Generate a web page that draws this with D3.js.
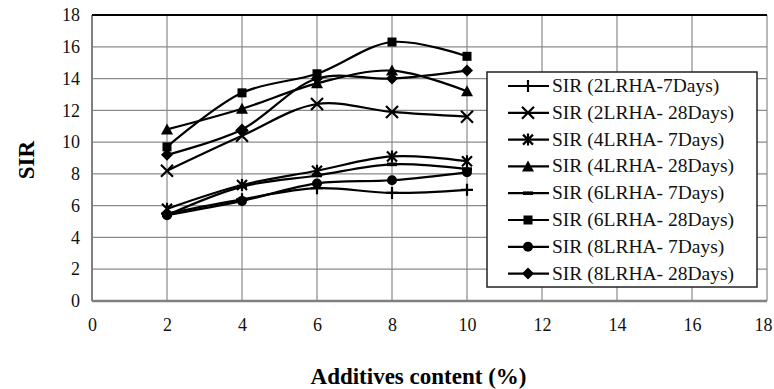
<!DOCTYPE html>
<html>
<head>
<meta charset="utf-8">
<script src="https://cdn.jsdelivr.net/npm/d3@7"></script>
<style>
  body { margin: 0; background: #fff; }
  svg text { font-family: "Liberation Serif", "Times New Roman", serif; }
</style>
</head>
<body>
<svg width="774" height="389"></svg>
<script>
// values
var xValues = [2, 4, 6, 8, 10];
var seriesNames = [
  "SIR (2LRHA-7Days)", "SIR (2LRHA- 28Days)", "SIR (4LRHA- 7Days)", "SIR (4LRHA- 28Days)",
  "SIR (6LRHA- 7Days)", "SIR (6LRHA- 28Days)", "SIR (8LRHA- 7Days)", "SIR (8LRHA- 28Days)"
];
var sir2_7   = [5.5, 6.4, 7.1, 6.8, 7.0];
var sir2_28  = [8.2, 10.4, 12.4, 11.9, 11.6];
var sir4_7   = [5.8, 7.3, 8.2, 9.1, 8.8];
var sir4_28  = [10.8, 12.1, 13.7, 14.5, 13.2];
var sir6_7   = [5.4, 7.2, 7.9, 8.6, 8.3];
var sir6_28  = [9.7, 13.1, 14.3, 16.3, 15.4];
var sir8_7   = [5.4, 6.3, 7.4, 7.6, 8.1];
var sir8_28  = [9.2, 10.8, 14.0, 14.0, 14.5];
var markers = ["plus", "x", "star", "triangle", "dash", "square", "circle", "diamond"];
var xTicks = d3.range(0, 19, 2);
var yTicks = d3.range(0, 19, 2);

var allSeries = [sir2_7, sir2_28, sir4_7, sir4_28, sir6_7, sir6_28, sir8_7, sir8_28];

var svg = d3.select("svg");
var pLeft = 92, pRight = 767, pTop = 15, pBottom = 301;

var x = d3.scaleLinear().domain([0, 18]).range([pLeft, pRight]);
var y = d3.scaleLinear().domain([0, 18]).range([pBottom, pTop]);

// grid
svg.append("g").selectAll("line")
  .data(xTicks.slice(1))
  .enter().append("line")
    .attr("x1", function(d) { return x(d); }).attr("x2", function(d) { return x(d); })
    .attr("y1", pTop).attr("y2", pBottom)
    .attr("stroke", "#8a8a8a").attr("stroke-width", 1.2);
svg.append("g").selectAll("line")
  .data(yTicks.slice(1))
  .enter().append("line")
    .attr("x1", pLeft).attr("x2", pRight)
    .attr("y1", function(d) { return y(d); }).attr("y2", function(d) { return y(d); })
    .attr("stroke", "#8a8a8a").attr("stroke-width", 1.2);

// frame
svg.append("line").attr("x1", pLeft).attr("x2", pLeft).attr("y1", pTop).attr("y2", pBottom)
  .attr("stroke", "#808080").attr("stroke-width", 2);
svg.append("line").attr("x1", pLeft).attr("x2", pRight).attr("y1", pBottom).attr("y2", pBottom)
  .attr("stroke", "#808080").attr("stroke-width", 2.5);
svg.append("line").attr("x1", pLeft).attr("x2", pRight).attr("y1", pTop).attr("y2", pTop)
  .attr("stroke", "#000").attr("stroke-width", 2);

// axes labels
var xAxis = d3.axisBottom(x).tickValues(xTicks).tickSize(0).tickPadding(17);
var gx = svg.append("g").attr("transform", "translate(0," + pBottom + ")").call(xAxis);
gx.select(".domain").remove();
gx.attr("font-family", null).attr("font-size", null);
gx.selectAll("text").style("font-size", "18px").attr("fill", "#111");
gx.selectAll(".tick").filter(function(d) { return d === 18; }).select("text").attr("dx", -4);

var yAxis = d3.axisLeft(y).tickValues(yTicks).tickSize(0).tickPadding(12);
var gy = svg.append("g").attr("transform", "translate(" + pLeft + ",0)").call(yAxis);
gy.select(".domain").remove();
gy.attr("font-family", null).attr("font-size", null);
gy.selectAll("text").style("font-size", "18px").attr("fill", "#111");

svg.append("text")
  .attr("x", (pLeft + pRight) / 2 - 11).attr("y", 384)
  .attr("text-anchor", "middle")
  .style("font-size", "23px").attr("font-weight", "bold")
  .text("Additives content (%)");

svg.append("text")
  .attr("transform", "translate(34,160) rotate(-90)")
  .attr("text-anchor", "middle")
  .style("font-size", "23px").attr("font-weight", "bold")
  .text("SIR");

// marker drawing
function drawMarker(g, type, cx, cy) {
  var s = 5;
  if (type === "plus") {
    g.append("path").attr("d", "M" + (cx - s - 1) + "," + cy + "H" + (cx + s + 1) + "M" + cx + "," + (cy - s - 1) + "V" + (cy + s + 1))
      .attr("stroke", "#000").attr("stroke-width", 2.2);
  } else if (type === "x") {
    g.append("path").attr("d", "M" + (cx - s - 1) + "," + (cy - s - 1) + "L" + (cx + s + 1) + "," + (cy + s + 1) +
      "M" + (cx - s - 1) + "," + (cy + s + 1) + "L" + (cx + s + 1) + "," + (cy - s - 1))
      .attr("stroke", "#000").attr("stroke-width", 2.2);
  } else if (type === "star") {
    g.append("path").attr("d", "M" + (cx - s) + "," + (cy - s) + "L" + (cx + s) + "," + (cy + s) +
      "M" + (cx - s) + "," + (cy + s) + "L" + (cx + s) + "," + (cy - s) +
      "M" + cx + "," + (cy - s - 1) + "V" + (cy + s + 1))
      .attr("stroke", "#000").attr("stroke-width", 2.2);
  } else if (type === "triangle") {
    g.append("path").attr("d", "M" + cx + "," + (cy - 6) + "L" + (cx + 6) + "," + (cy + 5) + "L" + (cx - 6) + "," + (cy + 5) + "Z")
      .attr("fill", "#000");
  } else if (type === "dash") {
    g.append("rect").attr("x", cx - 5).attr("y", cy - 1.8).attr("width", 10).attr("height", 3.6).attr("fill", "#000");
  } else if (type === "square") {
    g.append("rect").attr("x", cx - 4.5).attr("y", cy - 4.5).attr("width", 9).attr("height", 9).attr("fill", "#000");
  } else if (type === "circle") {
    g.append("circle").attr("cx", cx).attr("cy", cy).attr("r", 5).attr("fill", "#000");
  } else if (type === "diamond") {
    g.append("path").attr("d", "M" + cx + "," + (cy - 6) + "L" + (cx + 6) + "," + cy + "L" + cx + "," + (cy + 6) + "L" + (cx - 6) + "," + cy + "Z")
      .attr("fill", "#000");
  }
}

// lines
var line = d3.line()
  .x(function(d, i) { return x(xValues[i]); })
  .y(function(d) { return y(d); })
  .curve(d3.curveCatmullRom.alpha(0.5));

var series = svg.append("g").attr("class", "series");
allSeries.forEach(function(vals) {
  series.append("path")
    .attr("d", line(vals))
    .attr("fill", "none")
    .attr("stroke", "#000")
    .attr("stroke-width", 2.2);
});
allSeries.forEach(function(vals, k) {
  var g = series.append("g");
  vals.forEach(function(v, i) { drawMarker(g, markers[k], x(xValues[i]), y(v)); });
});

// legend
var lg = svg.append("g").attr("class", "legend");
lg.append("rect")
  .attr("x", 487).attr("y", 72).attr("width", 270).attr("height", 215)
  .attr("fill", "#fff").attr("stroke", "#222").attr("stroke-width", 1.5);
seriesNames.forEach(function(name, k) {
  var ly = 86 + k * 26.8;
  lg.append("line").attr("x1", 508).attr("x2", 549).attr("y1", ly).attr("y2", ly)
    .attr("stroke", "#000").attr("stroke-width", 2.2);
  drawMarker(lg, markers[k], 528, ly);
  lg.append("text").attr("x", 552).attr("y", ly + 6)
    .style("font-size", "19.5px").attr("fill", "#111")
    .text(name);
});
</script>
</body>
</html>
